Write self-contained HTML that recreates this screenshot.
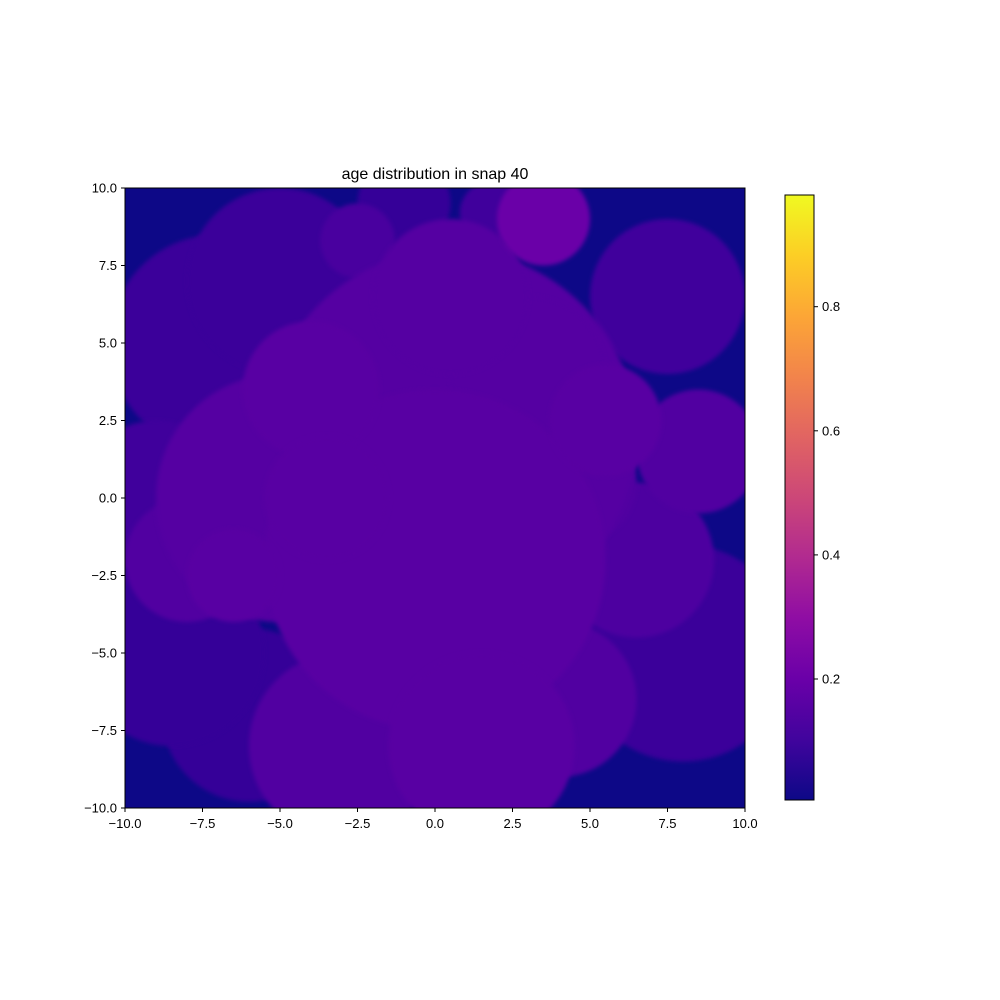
<!DOCTYPE html>
<html><head><meta charset="utf-8">
<style>
body{margin:0;background:#fff;}
svg{display:block;font-family:"Liberation Sans",sans-serif;}
</style></head>
<body>
<svg id="fig" width="1000" height="1000" viewBox="0 0 1000 1000" xmlns="http://www.w3.org/2000/svg">
<defs>
<clipPath id="clip"><rect x="125" y="188" width="620" height="620"/></clipPath>
<linearGradient id="cbg" x1="0" y1="1" x2="0" y2="0">
<stop offset="0" stop-color="#0d0887"/><stop offset="0.1" stop-color="#41049d"/><stop offset="0.2" stop-color="#6a00a8"/><stop offset="0.3" stop-color="#8f0da4"/><stop offset="0.4" stop-color="#b12a90"/><stop offset="0.5" stop-color="#cc4778"/><stop offset="0.6" stop-color="#e16462"/><stop offset="0.7" stop-color="#f2844b"/><stop offset="0.8" stop-color="#fca636"/><stop offset="0.9" stop-color="#fcce25"/><stop offset="1" stop-color="#f0f921"/>
</linearGradient>
<filter id="blur"><feGaussianBlur stdDeviation="2"/></filter>
</defs>
<text x="435" y="179" text-anchor="middle" font-size="16">age distribution in snap 40</text>
<rect x="125" y="188" width="620" height="620" fill="#0d0887"/>
<g id="blobs" clip-path="url(#clip)"></g>
<rect x="125" y="188" width="620" height="620" fill="none" stroke="#000" stroke-width="1"/>
<g id="xticks"></g>
<g id="yticks"></g>
<rect x="785" y="195" width="29" height="605" fill="url(#cbg)" stroke="#000" stroke-width="1"/>
<g id="cbticks"></g>
</svg>
<script>
const blobX=[0.5,0,-5,-6,-8.5,8,-7,-5,7.5,8.5,1.5,-3,4,-9,6.5,-8,5.5,3.5,-2.5,-1,1.8,-4,3,-1.5,2,-3.5,-6.5,4.5,0.5];
const blobY=[2,-2,0,-7,-5,-5,5,7,6.5,1.5,-8,-8,-6.5,0,-2,-2,2.5,9,8.3,9.5,9.2,3.5,4,-4,-4,0,-2.5,0.5,6.5];
const blobR=[6,5.5,4,2.8,3,3.5,3.5,3,2.5,2,3,3,2.5,2.5,2.5,2,1.8,1.5,1.2,1.5,1,2.2,2.5,2.5,2.5,2,1.5,2,2.5];
const blobAge=[0.15,0.16,0.15,0.08,0.08,0.09,0.09,0.09,0.1,0.14,0.16,0.14,0.14,0.1,0.13,0.14,0.16,0.2,0.12,0.08,0.1,0.16,0.15,0.14,0.14,0.16,0.16,0.14,0.15];
const xTickVals=[-10,-7.5,-5,-2.5,0,2.5,5,7.5,10];
const xTickLabels=["−10.0","−7.5","−5.0","−2.5","0.0","2.5","5.0","7.5","10.0"];
const yTickVals=[-10,-7.5,-5,-2.5,0,2.5,5,7.5,10];
const yTickLabels=["−10.0","−7.5","−5.0","−2.5","0.0","2.5","5.0","7.5","10.0"];
const cbTickVals=[0.2,0.4,0.6,0.8];
const cbTickLabels=["0.2","0.4","0.6","0.8"];
const cbMin=0.005, cbMax=0.98;

const NS="http://www.w3.org/2000/svg";
const sx=v=>125+(v+10)/20*620;
const sy=v=>808-(v+10)/20*620;
const sr=r=>r/20*620;
const cby=v=>800-(v-cbMin)/(cbMax-cbMin)*605;
const stops=[[13,8,135],[65,4,157],[106,0,168],[143,13,164],[177,42,144],[204,71,120],[225,100,98],[242,132,75],[252,166,54],[252,206,37],[240,249,33]];
function plasma(v){let t=(v-cbMin)/(cbMax-cbMin);t=Math.max(0,Math.min(1,t))*10;const i=Math.min(9,Math.floor(t)),f=t-i;const a=stops[i],b=stops[i+1];return `rgb(${a.map((c,k)=>Math.round(c+(b[k]-c)*f)).join(',')})`;}
function mk(tag,attrs,parent){const e=document.createElementNS(NS,tag);for(const k in attrs)e.setAttribute(k,attrs[k]);parent.appendChild(e);return e;}

const g=document.getElementById('blobs');
const order=blobAge.map((a,i)=>i).sort((a,b)=>blobAge[a]-blobAge[b]);
order.forEach(i=>{
  const c=mk('circle',{cx:sx(blobX[i]),cy:sy(blobY[i]),r:sr(blobR[i]),fill:plasma(blobAge[i]),filter:'url(#blur)'},g);
  
  
});

const xt=document.getElementById('xticks');
xTickVals.forEach((v,i)=>{
  const l=mk('line',{x1:sx(v),x2:sx(v),y1:808,y2:812,stroke:'#000'},xt);
  
  
  const t=mk('text',{x:sx(v),y:828,'text-anchor':'middle','font-size':13},xt);
  
  
  t.textContent=xTickLabels[i];
});
const yt=document.getElementById('yticks');
yTickVals.forEach((v,i)=>{
  const l=mk('line',{x1:121,x2:125,y1:sy(v),y2:sy(v),stroke:'#000'},yt);
  
  
  const t=mk('text',{x:117,y:sy(v)+4.5,'text-anchor':'end','font-size':13},yt);
  
  
  t.textContent=yTickLabels[i];
});
const ct=document.getElementById('cbticks');
cbTickVals.forEach((v,i)=>{
  const l=mk('line',{x1:814,x2:818,y1:cby(v),y2:cby(v),stroke:'#000'},ct);
  
  
  const t=mk('text',{x:822,y:cby(v)+4.5,'font-size':13},ct);
  
  
  t.textContent=cbTickLabels[i];
});
</script>
</body></html>
